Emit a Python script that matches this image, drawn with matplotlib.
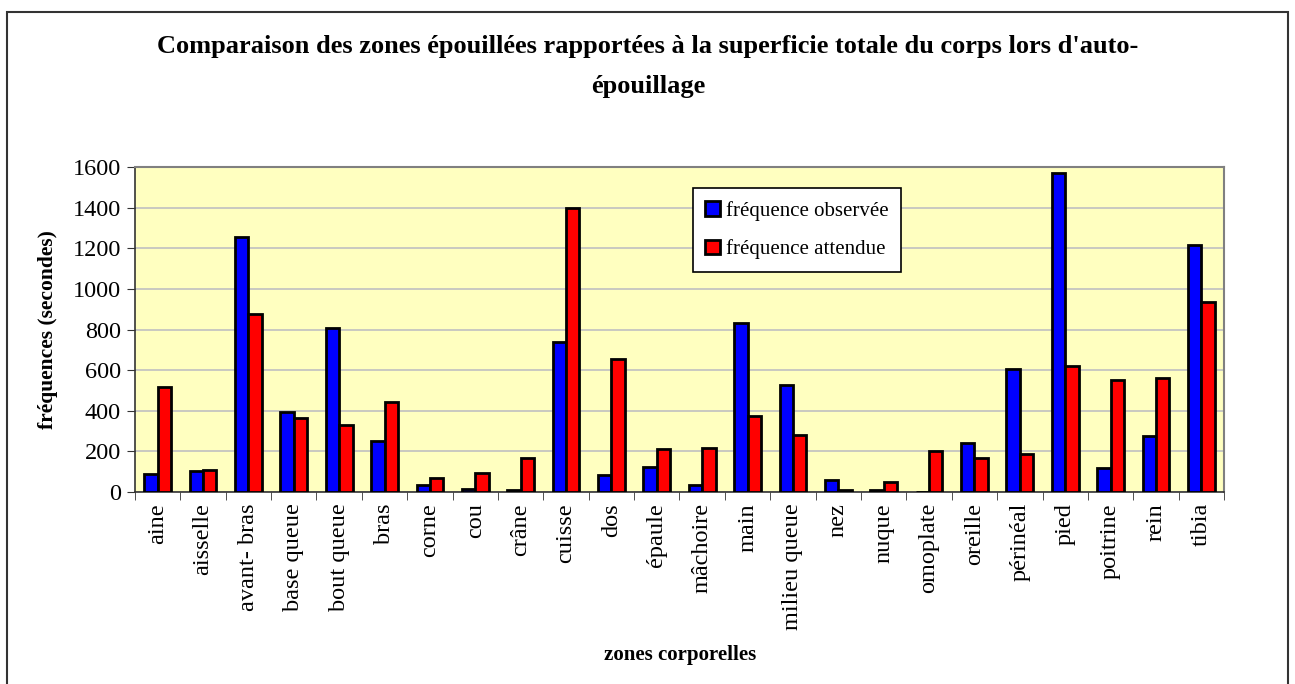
import numpy as np
import matplotlib.pyplot as plt
from matplotlib.patches import Rectangle

plt.rcParams['font.family'] = ['Liberation Serif', 'DejaVu Serif']

zones = ["aine", "aisselle", "avant- bras", "base queue", "bout queue", "bras",
         "corne", "cou", "crâne", "cuisse", "dos", "épaule", "mâchoire", "main",
         "milieu queue", "nez", "nuque", "omoplate", "oreille", "périnéal",
         "pied", "poitrine", "rein", "tibia"]
observee = [88, 105, 1254, 392, 807, 250, 34, 13, 12, 740, 84, 125, 34, 832,
            527, 57, 9, 0, 241, 604, 1571, 120, 276, 1216]
attendue = [515, 108, 876, 366, 331, 443, 71, 92, 169, 1397, 655, 213, 218, 373,
            281, 10, 49, 202, 167, 185, 619, 550, 561, 937]

fig = plt.figure(figsize=(12.95, 6.84), dpi=100)
ax = fig.add_axes([0.1042, 0.2807, 0.841, 0.4751])

# outer frame around the whole chart
fig.patches.append(Rectangle((7 / 1295, -0.05), 1281 / 1295, 1.05 - 12 / 684,
                             transform=fig.transFigure, fill=False,
                             edgecolor='#333333', linewidth=1.5))

x = np.arange(len(zones))
w = 0.295
ax.set_facecolor('#FFFFC0')
ax.bar(x - w / 2, observee, w, color='#0000FF', edgecolor='black',
       linewidth=2.0, label='fréquence observée', zorder=3)
ax.bar(x + w / 2, attendue, w, color='#FF0000', edgecolor='black',
       linewidth=2.0, label='fréquence attendue', zorder=3)

ax.set_xlim(-0.5, len(zones) - 0.5)
ax.set_ylim(0, 1600)
ax.set_yticks(np.arange(0, 1601, 200))
ax.yaxis.grid(True, color='#C0C0C0', linewidth=1.2, zorder=0)
ax.set_axisbelow(True)

ax.set_xticks(x)
ax.set_xticklabels(zones, rotation=90, fontsize=17.5)
ax.set_xticks(np.arange(-0.5, len(zones), 1), minor=True)
ax.tick_params(axis='x', which='major', length=0, pad=8)
ax.tick_params(axis='x', which='minor', length=6, direction='out', color='#333333')
ax.tick_params(axis='y', length=6, direction='out', labelsize=17.5, color='#333333', pad=4)

for side in ['top', 'right']:
    ax.spines[side].set_color('#808080')
    ax.spines[side].set_linewidth(1.5)
for side in ['left', 'bottom']:
    ax.spines[side].set_color('#333333')
    ax.spines[side].set_linewidth(1.2)

ax.set_ylabel('fréquences (secondes)', fontsize=15.5, fontweight='bold')
ax.yaxis.set_label_coords(-0.071, 0.5)
fig.text(680 / 1295, 1 - 655 / 684, 'zones corporelles', ha='center', va='center',
         fontsize=15, fontweight='bold')

fig.text(648 / 1295, 1 - 46 / 684,
         "Comparaison des zones épouillées rapportées à la superficie totale du corps lors d'auto-",
         ha='center', va='center', fontsize=19, fontweight='bold')
fig.text(648 / 1295, 1 - 86 / 684, "épouillage", ha='center', va='center',
         fontsize=19, fontweight='bold')

leg = ax.legend(loc='upper left', bbox_to_anchor=(0.512, 0.935), borderaxespad=0,
                fontsize=15, frameon=True, fancybox=False, edgecolor='black',
                framealpha=1, handlelength=0.72, handleheight=0.72,
                handletextpad=0.3, labelspacing=0.9, borderpad=0.6)
leg.get_frame().set_linewidth(1.2)

fig.savefig('out.png', dpi=100)
